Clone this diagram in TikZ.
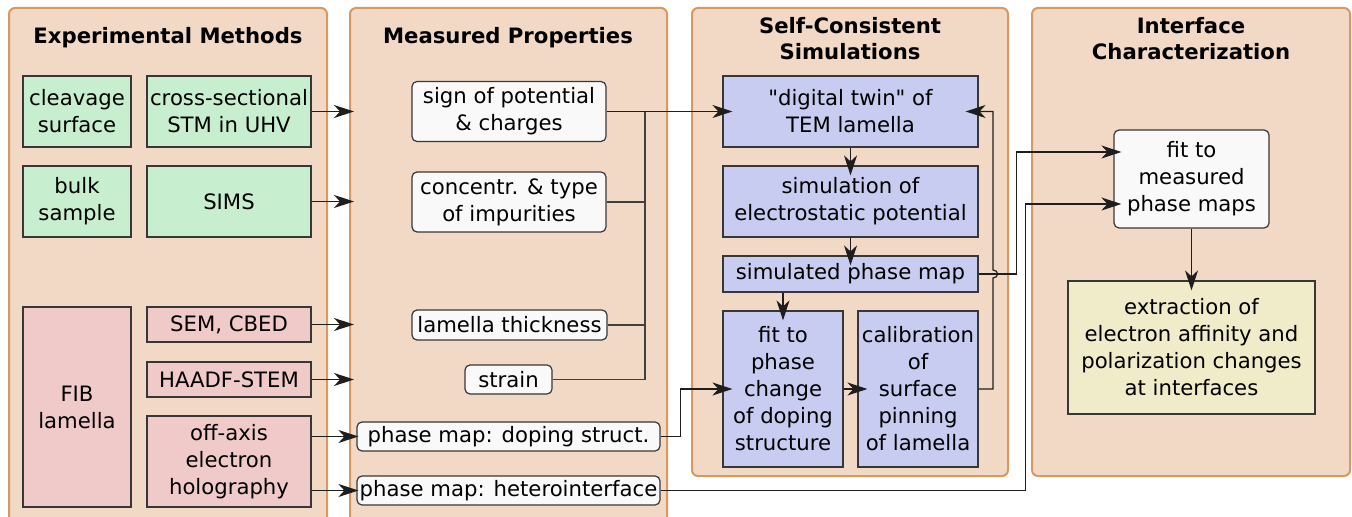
\documentclass[tikz,border=0pt]{standalone}
\usepackage{fontspec}
\setmainfont{DejaVu Sans}[Ligatures=TeXOff]
\usetikzlibrary{arrows.meta, positioning}
\definecolor{panelfill}{RGB}{242,217,198}
\definecolor{paneledge}{RGB}{218,152,94}
\definecolor{boxedge}{RGB}{55,55,55}
\definecolor{linecol}{RGB}{30,30,30}
\definecolor{expgreen}{RGB}{199,239,207}
\definecolor{exppink}{RGB}{240,201,201}
\definecolor{simblue}{RGB}{200,204,240}
\definecolor{resyellow}{RGB}{240,235,200}
\definecolor{propwhite}{RGB}{249,249,249}

\begin{document}
\begin{tikzpicture}[x=0.5pt, y=-0.5pt,
  font=\fontsize{10.6}{13.5}\selectfont,
  panel/.style={draw=paneledge, fill=panelfill, line width=1pt, rounded corners=3pt},
  ptitle/.style={font=\fontsize{10.6}{13}\selectfont\bfseries, align=center},
  mbox/.style={draw=boxedge, line width=0.6pt, align=center, inner sep=1pt},
  expbox/.style={mbox, fill=expgreen},
  labbox/.style={mbox, fill=exppink},
  propbox/.style={mbox, fill=propwhite, rounded corners=2.5pt},
  simbox/.style={mbox, fill=simblue},
  resbox/.style={mbox, fill=resyellow},
  wire/.style={draw=linecol!85, line width=0.6pt},
  arr/.style={wire, draw=linecol, -{Stealth[length=10pt, width=6.5pt, inset=3pt]}, shorten >=-5pt}
]
  \useasboundingbox (0,0) rectangle (1352,517);
  \clip (0,0) rectangle (1352,517);

  % panels
  \node[panel, minimum width=159pt, minimum height=261pt] (pexp) at (168,269) {};
  \node[panel, minimum width=158.5pt, minimum height=261pt] (pmeas) at (508.5,269) {};
  \node[panel, minimum width=158pt, minimum height=234pt] (psim) at (850,242) {};
  \node[panel, minimum width=159pt, minimum height=234pt] (pint) at (1191,242) {};

  \node[ptitle] (texp) at (168,38) {Experimental Methods};
  \node[ptitle] (tmeas) at (508,38) {Measured Properties};
  \node[ptitle] (tsim) at (850,39) {Self-Consistent\\Simulations};
  \node[ptitle] (tint) at (1191,39) {Interface\\Characterization};

  % experimental methods
  \node[expbox, minimum width=54pt, minimum height=35.5pt] (cleav) at (77,111.5) {cleavage\\surface};
  \node[expbox, minimum width=82pt, minimum height=35.5pt] (stm) at (229,111.5) {cross-sectional\\STM in UHV};
  \node[expbox, minimum width=54pt, minimum height=35.5pt] (bulk) at (77,201.5) {bulk\\sample};
  \node[expbox, minimum width=82pt, minimum height=35.5pt] (sims) at (229,201.5) {SIMS};
  \node[labbox, minimum width=54pt, minimum height=100pt] (fib) at (77,407) {FIB\\lamella};
  \node[labbox, minimum width=82pt, minimum height=17.5pt] (sem) at (229,324.5) {SEM, CBED};
  \node[labbox, minimum width=82pt, minimum height=17.5pt] (haadf) at (229,379.5) {HAADF-STEM};
  \node[labbox, minimum width=82pt, minimum height=45.5pt] (holo) at (229,461.5) {off-axis\\electron\\holography};

  % measured properties
  \node[propbox, minimum width=97pt, minimum height=30pt] (sign) at (509,111.5) {sign of potential\\\& charges};
  \node[propbox, minimum width=97pt, minimum height=30pt] (conc) at (509,202) {concentr. \& type\\of impurities};
  \node[propbox, minimum width=97.5pt, minimum height=15pt] (thick) at (509.5,325) {lamella thickness};
  \node[propbox, minimum width=43.5pt, minimum height=14.5pt] (strain) at (508.5,379.5) {strain};
  \node[propbox, minimum width=151.5pt, minimum height=14.5pt] (dope) at (508.5,436.5) {phase map: doping struct.};
  \node[propbox, minimum width=151.5pt, minimum height=14.5pt] (hetero) at (508.5,490.5) {phase map: heterointerface};

  % simulations
  \node[simbox, minimum width=127.5pt, minimum height=35.5pt] (twin) at (850.5,111.5) {"digital twin" of\\TEM lamella};
  \node[simbox, minimum width=127.5pt, minimum height=35.5pt] (simpot) at (850.5,201.5) {simulation of\\electrostatic potential};
  \node[simbox, minimum width=127.5pt, minimum height=18pt] (simmap) at (850.5,274) {simulated phase map};
  \node[simbox, minimum width=60pt, minimum height=78pt] (fitdope) at (783,389) {fit to\\phase\\change\\of doping\\structure};
  \node[simbox, minimum width=60pt, minimum height=78pt] (calib) at (918,389) {calibration\\of\\surface\\pinning\\of lamella};

  % interface characterization
  \node[propbox, minimum width=77.5pt, minimum height=49pt] (fitmeas) at (1191.5,179) {fit to\\measured\\phase maps};
  \node[resbox, minimum width=123.5pt, minimum height=66.5pt] (extract) at (1191.5,347.5) {extraction of\\electron affinity and\\polarization changes\\at interfaces};

  % methods -> properties
  \draw[arr, shorten >=-2.5pt] (stm.east) -- (stm.east -| pmeas.west);
  \draw[arr, shorten >=-2.5pt] (sims.east) -- (sims.east -| pmeas.west);
  \draw[arr, shorten >=-2.5pt] (sem.east) -- (sem.east -| pmeas.west);
  \draw[arr, shorten >=-2.5pt] (haadf.east) -- (haadf.east -| pmeas.west);
  \draw[arr, shorten >=-1pt] (holo.east |- dope.west) -- (dope.west);
  \draw[arr, shorten >=-1pt] (holo.east |- hetero.west) -- (hetero.west);

  % collecting bus
  \coordinate (bus) at (645,111.5);
  \draw[wire] (conc.east) -| (bus);
  \draw[wire] (thick.east) -| (bus);
  \draw[wire] (strain.east) -| (bus);
  \draw[arr] (sign.east) -- (twin.west);

  % simulation loop
  \draw[arr] (twin.south) -- (simpot.north);
  \draw[arr] (simpot.south) -- (simmap.north);
  \draw[arr] (fitdope.north |- simmap.south) -- (fitdope.north);
  \draw[arr] (fitdope.east) -- (calib.west);
  \draw[arr, shorten >=-6.5pt] (calib.east) -| (993,278) .. controls (999,278) and (999,270) .. (993,270) |- (twin.east);
  \draw[arr] (dope.east) -- ++(20,0) |- (fitdope.west);

  % to the interface fit
  \draw[arr, shorten >=-4pt] (simmap.east) -- ++(38,0) |- ([yshift=13.5pt]fitmeas.west);
  \draw[arr, shorten >=-4pt] (hetero.east) -- ++(365,0) |- ([yshift=-12.5pt]fitmeas.west);
  \draw[arr] (fitmeas.south) -- (extract.north);
\end{tikzpicture}
\end{document}
